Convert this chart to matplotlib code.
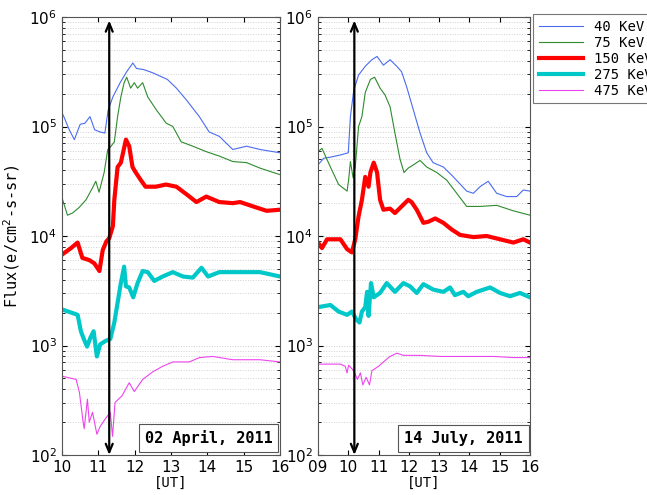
import numpy as np
import matplotlib
matplotlib.use("Agg")
import matplotlib.pyplot as plt
from matplotlib.ticker import LogLocator, NullFormatter

# =====================================================
# Data -- hours UT, log10(flux)
# =====================================================
energies = ["40 KeV", "75 KeV", "150 KeV", "275 KeV", "475 KeV"]

# ---- 02 April 2011 ----
apr_t_40 = [10.0, 10.05, 10.2, 10.34, 10.5, 10.63, 10.77, 10.9, 11.05, 11.18, 11.27, 11.4, 11.6, 11.78,
            11.95, 12.05, 12.25, 12.5, 12.9, 13.15, 13.43, 13.78, 14.05, 14.33, 14.7, 15.08, 15.45, 16.0]
apr_f_40 = [5.125, 5.09, 4.97, 4.88, 5.02, 5.03, 5.09, 4.97, 4.95, 4.94, 5.15, 5.27, 5.40, 5.50,
            5.58, 5.53, 5.52, 5.49, 5.43, 5.35, 5.24, 5.09, 4.95, 4.91, 4.79, 4.82, 4.79, 4.76]

apr_t_75 = [10.0, 10.15, 10.29, 10.47, 10.66, 10.84, 10.93, 11.02, 11.16, 11.26, 11.35, 11.44, 11.53, 11.62,
            11.71, 11.78, 11.89, 11.99, 12.08, 12.22, 12.36, 12.6, 12.87, 13.05, 13.28, 13.6, 13.97, 14.33,
            14.7, 15.08, 15.45, 16.0]
apr_f_75 = [4.35, 4.19, 4.21, 4.26, 4.33, 4.44, 4.50, 4.40, 4.58, 4.79, 4.82, 4.86, 5.09, 5.27,
            5.40, 5.45, 5.35, 5.40, 5.35, 5.40, 5.27, 5.15, 5.03, 5.00, 4.86, 4.82, 4.77, 4.73,
            4.68, 4.67, 4.62, 4.56]

apr_t_150 = [10.0, 10.25, 10.43, 10.56, 10.75, 10.89, 11.03, 11.12, 11.22, 11.3, 11.4, 11.44, 11.53, 11.62,
             11.76, 11.85, 11.94, 12.03, 12.17, 12.3, 12.58, 12.86, 13.15, 13.43, 13.7, 13.97, 14.33,
             14.7, 14.9, 15.26, 15.63, 16.0]
apr_f_150 = [3.83, 3.89, 3.94, 3.80, 3.78, 3.75, 3.68, 3.87, 3.95, 3.98, 4.09, 4.33, 4.63, 4.67,
             4.88, 4.82, 4.63, 4.58, 4.51, 4.45, 4.45, 4.47, 4.45, 4.38, 4.31, 4.36, 4.31,
             4.30, 4.31, 4.27, 4.23, 4.24]

apr_t_275 = [10.0, 10.43, 10.52, 10.6, 10.69, 10.78, 10.87, 10.96, 11.05, 11.19, 11.33, 11.44, 11.53, 11.62,
             11.71, 11.76, 11.85, 11.96, 12.08, 12.22, 12.36, 12.54, 12.77, 13.05, 13.33, 13.6, 13.84,
             14.02, 14.33, 14.9, 15.45, 16.0]
apr_f_275 = [3.33, 3.28, 3.13, 3.06, 2.99, 3.07, 3.13, 2.90, 3.01, 3.04, 3.06, 3.21, 3.39, 3.57,
             3.72, 3.54, 3.53, 3.44, 3.57, 3.68, 3.67, 3.59, 3.63, 3.67, 3.63, 3.62, 3.71,
             3.63, 3.67, 3.67, 3.67, 3.63]

apr_t_475 = [10.0, 10.39, 10.48, 10.57, 10.61, 10.7, 10.75, 10.84, 10.96, 11.05, 11.19, 11.33, 11.39, 11.46,
             11.65, 11.85, 11.99, 12.22, 12.5, 12.77, 13.05, 13.5, 13.79, 14.15, 14.7, 15.45, 16.0]
apr_f_475 = [2.72, 2.69, 2.57, 2.33, 2.24, 2.51, 2.30, 2.39, 2.19, 2.26, 2.33, 2.39, 2.17, 2.48,
             2.54, 2.66, 2.58, 2.69, 2.76, 2.81, 2.85, 2.85, 2.89, 2.90, 2.87, 2.87, 2.85]

# ---- 14 July 2011 ----
jul_t_40 = [9.0, 9.19, 9.41, 9.74, 10.0, 10.07, 10.18, 10.34, 10.56, 10.78, 10.95, 11.16, 11.38, 11.6,
            11.76, 11.93, 12.15, 12.37, 12.59, 12.8, 13.14, 13.47, 13.91, 14.13, 14.35, 14.62, 14.9,
            15.23, 15.56, 15.78, 16.0]
jul_f_40 = [4.65, 4.71, 4.72, 4.74, 4.76, 5.09, 5.33, 5.47, 5.55, 5.61, 5.64, 5.56, 5.61, 5.55,
            5.50, 5.36, 5.15, 4.94, 4.76, 4.67, 4.63, 4.54, 4.41, 4.39, 4.45, 4.50, 4.39,
            4.36, 4.36, 4.42, 4.41]

jul_t_75 = [9.0, 9.13, 9.41, 9.68, 9.96, 10.01, 10.07, 10.16, 10.23, 10.34, 10.45, 10.56, 10.73, 10.87,
            11.05, 11.21, 11.38, 11.54, 11.71, 11.84, 11.98, 12.15, 12.37, 12.59, 12.92, 13.25, 13.58,
            13.91, 14.35, 14.9, 15.45, 16.0]
jul_f_75 = [4.77, 4.80, 4.63, 4.47, 4.41, 4.51, 4.68, 4.53, 4.63, 5.00, 5.09, 5.31, 5.43, 5.45,
            5.35, 5.29, 5.18, 4.94, 4.70, 4.58, 4.62, 4.65, 4.69, 4.63, 4.58, 4.51, 4.39,
            4.27, 4.27, 4.28, 4.23, 4.19]

jul_t_150 = [9.0, 9.13, 9.3, 9.74, 9.96, 10.12, 10.23, 10.34, 10.45, 10.56, 10.67, 10.73, 10.84, 10.95,
             11.05, 11.16, 11.38, 11.54, 11.76, 11.98, 12.09, 12.26, 12.48, 12.64, 12.87, 13.14, 13.41,
             13.69, 14.13, 14.57, 15.01, 15.45, 15.78, 16.0]
jul_f_150 = [3.94, 3.89, 3.97, 3.97, 3.88, 3.85, 3.97, 4.18, 4.33, 4.54, 4.45, 4.58, 4.67, 4.58,
             4.33, 4.24, 4.25, 4.21, 4.27, 4.33, 4.31, 4.24, 4.12, 4.13, 4.16, 4.12, 4.06,
             4.01, 3.99, 4.00, 3.97, 3.94, 3.97, 3.94]

jul_t_275 = [9.0, 9.41, 9.68, 9.96, 10.12, 10.26, 10.37, 10.45, 10.56, 10.62, 10.67, 10.75, 10.84, 11.05,
             11.27, 11.54, 11.82, 12.04, 12.26, 12.48, 12.81, 13.14, 13.36, 13.52, 13.8, 13.96, 14.24,
             14.68, 15.01, 15.34, 15.67, 16.0]
jul_f_275 = [3.35, 3.37, 3.31, 3.28, 3.31, 3.24, 3.21, 3.31, 3.35, 3.49, 3.27, 3.57, 3.44, 3.48,
             3.57, 3.49, 3.57, 3.54, 3.48, 3.56, 3.51, 3.49, 3.53, 3.46, 3.49, 3.45, 3.49,
             3.53, 3.48, 3.45, 3.48, 3.44]

jul_t_475 = [9.0, 9.74, 9.9, 9.96, 10.01, 10.18, 10.3, 10.4, 10.48, 10.59, 10.7, 10.78, 11.0, 11.16,
             11.38, 11.6, 11.82, 12.37, 13.03, 13.58, 14.13, 14.79, 15.45, 16.0]
jul_f_475 = [2.83, 2.83, 2.81, 2.75, 2.82, 2.77, 2.69, 2.75, 2.64, 2.71, 2.64, 2.77, 2.81, 2.85,
             2.90, 2.93, 2.91, 2.91, 2.90, 2.90, 2.90, 2.90, 2.89, 2.89]

arrow_apr = 11.3
arrow_jul = 10.2

# =====================================================
# Plot
# =====================================================
colors = ["#4a6cf0", "#2e8b2e", "#ff0000", "#00c8c8", "#ee44ee"]
widths = [0.8, 0.8, 3.0, 3.0, 0.8]
mono = "DejaVu Sans Mono"

fig = plt.figure(figsize=(6.47, 4.95), dpi=100)
ax1 = fig.add_axes([62/647, 1 - 455/495, 218/647, 438/495])
ax2 = fig.add_axes([318/647, 1 - 455/495, 212/647, 438/495])

apr = [(apr_t_40, apr_f_40), (apr_t_75, apr_f_75), (apr_t_150, apr_f_150),
       (apr_t_275, apr_f_275), (apr_t_475, apr_f_475)]
jul = [(jul_t_40, jul_f_40), (jul_t_75, jul_f_75), (jul_t_150, jul_f_150),
       (jul_t_275, jul_f_275), (jul_t_475, jul_f_475)]

handles = []
for i in range(5):
    h, = ax1.plot(apr[i][0], 10 ** np.array(apr[i][1]), color=colors[i], lw=widths[i])
    ax2.plot(jul[i][0], 10 ** np.array(jul[i][1]), color=colors[i], lw=widths[i])
    handles.append(h)

for ax in (ax1, ax2):
    ax.set_yscale("log")
    ax.set_ylim(1e2, 1e6)
    ax.yaxis.set_minor_locator(LogLocator(base=10, subs=np.arange(2, 10)))
    ax.yaxis.set_minor_formatter(NullFormatter())
    ax.grid(True, which="both", axis="y", color="#d0d0d0", ls=":", lw=0.7)
    ax.tick_params(which="both", direction="in", top=True, right=True, labelsize=11)
    for s in ax.spines.values():
        s.set_color("#555555")
    ax.set_xlabel("[UT]", family=mono, fontsize=10, labelpad=1)

ax1.set_xlim(10, 16)
ax1.set_xticks(np.arange(10, 17))
ax2.set_xlim(9, 16)
ax2.set_xticks(np.arange(9, 17))
ax2.set_xticklabels(["09", "10", "11", "12", "13", "14", "15", "16"])

ax1.set_ylabel("Flux(e/cm$^2$-s-sr)", family=mono, fontsize=11)
ax1.yaxis.set_label_coords(-0.185, 0.5)

# arrows
for ax, xa in ((ax1, arrow_apr), (ax2, arrow_jul)):
    ax.annotate("", xy=(xa, 9.3e5), xytext=(xa, 1.0e2),
                arrowprops=dict(arrowstyle="<->,head_length=0.6,head_width=0.25",
                                color="black", lw=1.6, shrinkA=0, shrinkB=0))

# date boxes
box = dict(boxstyle="square,pad=0.4", fc="white", ec="#555555", lw=0.8)
ax1.text(0.965, 0.02, "02 April, 2011", transform=ax1.transAxes, ha="right", va="bottom",
         family=mono, fontweight="bold", fontsize=11, bbox=box)
ax2.text(0.965, 0.02, "14 July, 2011", transform=ax2.transAxes, ha="right", va="bottom",
         family=mono, fontweight="bold", fontsize=11, bbox=box)

leg = fig.legend(handles, energies, loc="upper left", bbox_to_anchor=(533/647, 1 - 14/495),
                 prop={"family": mono, "size": 10}, frameon=True, fancybox=False,
                 edgecolor="#555555", handlelength=3.2, labelspacing=0.15, borderaxespad=0)
leg.get_frame().set_linewidth(0.8)

fig.savefig("out.png", dpi=100)
